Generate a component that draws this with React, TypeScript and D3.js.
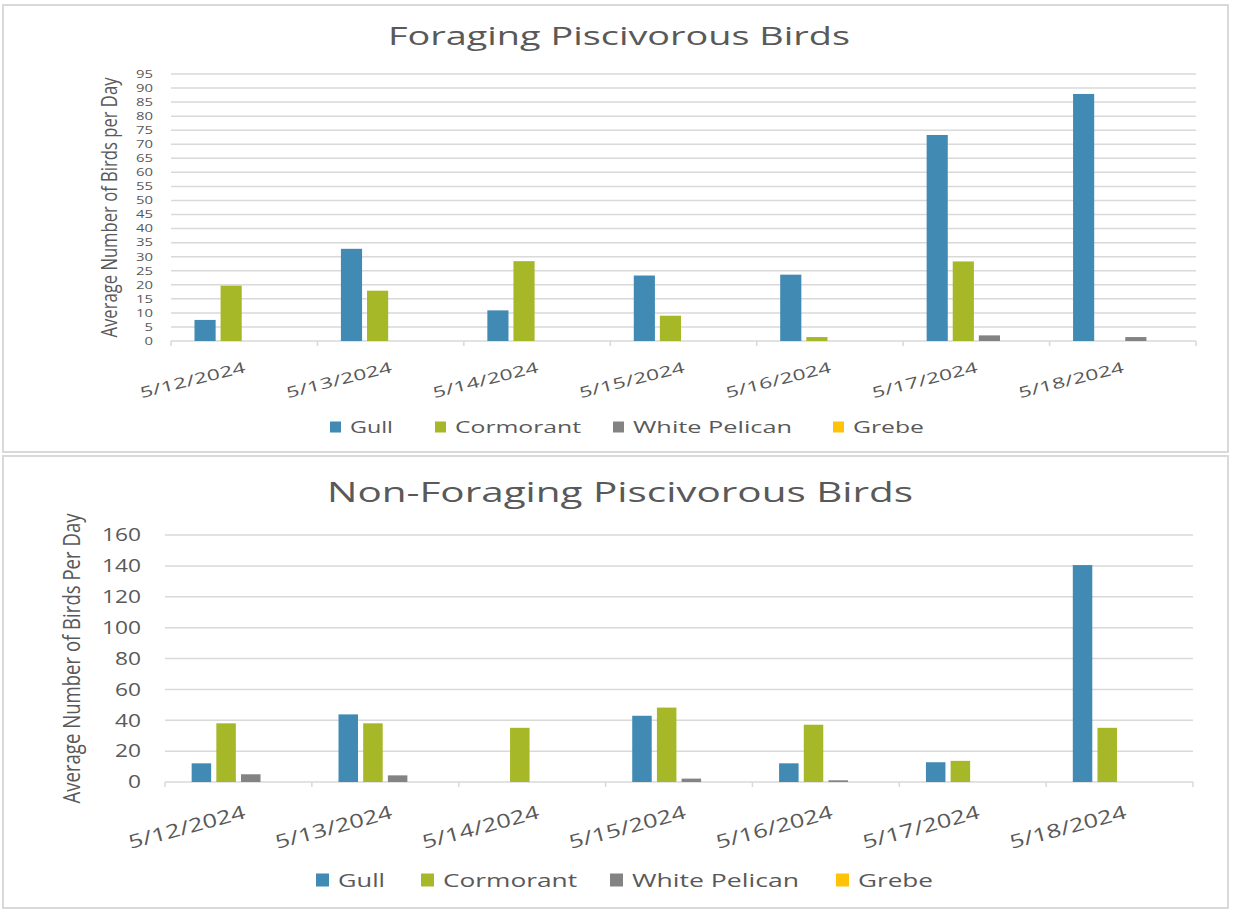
import * as d3 from 'd3';

const dates = ['5/12/2024', '5/13/2024', '5/14/2024', '5/15/2024', '5/16/2024', '5/17/2024', '5/18/2024'];
const seriesNames = ['Gull', 'Cormorant', 'White Pelican', 'Grebe'];
const seriesColors = ['#418AB3', '#A6B727', '#838383', '#FEC306'];

// foraging birds, average per day
const foragingGull = [7.5, 32.8, 10.9, 23.3, 23.6, 73.3, 87.9];
const foragingCormorant = [19.7, 17.9, 28.4, 9.0, 1.4, 28.3, 0];
const foragingPelican = [0, 0, 0, 0, 0, 2.0, 1.4];
const foragingGrebe = [0, 0, 0, 0, 0, 0, 0];
const foragingTicks = [0, 5, 10, 15, 20, 25, 30, 35, 40, 45, 50, 55, 60, 65, 70, 75, 80, 85, 90, 95];

// non-foraging birds, average per day
const nonForagingGull = [12.1, 43.8, 0, 42.9, 12.1, 12.8, 140.5];
const nonForagingCormorant = [38, 38, 35.1, 48.2, 37.1, 13.7, 35.1];
const nonForagingPelican = [5, 4.3, 0, 2.2, 1.1, 0, 0];
const nonForagingGrebe = [0, 0, 0, 0, 0, 0, 0];
const nonForagingTicks = [0, 20, 40, 60, 80, 100, 120, 140, 160];

const textColor = '#595959';
const gridColor = '#d9d9d9';

interface PanelProps {
  title: string;
  yTitle: string;
  series: number[][];
  ticks: number[];
  box: { x: number; y: number; w: number; h: number };
  plot: { left: number; right: number; top: number; bottom: number };
  titleX: number;
  titleY: number;
  titleFont: number;
  titleLen: number;
  yTitleX: number;
  yTitleFont: number;
  yTitleLen: number;
  tickFont: number;
  tickCharW: number;
  tickRight: number;
  dateFont: number;
  dateLen: number;
  dateDx: number;
  dateY: number;
  dateAngle: number;
  barPadInner: number;
  barPadOuter: number;
  legendY: number;
  legendFont: number;
  legendSquare: number;
  legendX: number[];
  legendLen: number[];
}

const Panel = (p: PanelProps) => {
  const x = d3.scaleBand<string>().domain(dates).range([p.plot.left, p.plot.right]).padding(0);
  const inner = d3
    .scaleBand<string>()
    .domain(seriesNames)
    .range([0, x.bandwidth()])
    .paddingInner(p.barPadInner)
    .paddingOuter(p.barPadOuter);
  const y = d3
    .scaleLinear()
    .domain([0, p.ticks[p.ticks.length - 1]])
    .range([p.plot.bottom, p.plot.top]);

  const boundaries = dates.map((d) => x(d)!).concat([p.plot.right]);

  return (
    <g>
      <rect x={p.box.x} y={p.box.y} width={p.box.w} height={p.box.h} fill="white" stroke={gridColor} strokeWidth={2} />
      <text
        x={p.titleX}
        y={p.titleY}
        textAnchor="middle"
        fontSize={p.titleFont}
        fill={textColor}
        textLength={p.titleLen}
        lengthAdjust="spacingAndGlyphs"
      >
        {p.title}
      </text>

      {/* gridlines */}
      {p.ticks.map((t) => (
        <line key={t} x1={p.plot.left} x2={p.plot.right} y1={y(t)} y2={y(t)} stroke={gridColor} strokeWidth={1.5} />
      ))}
      {/* category tick marks */}
      {boundaries.map((bx, i) => (
        <line key={i} x1={bx} x2={bx} y1={p.plot.bottom} y2={p.plot.bottom + 5} stroke={gridColor} strokeWidth={1.5} />
      ))}

      {/* y tick labels */}
      {p.ticks.map((t) => (
        <text
          key={t}
          x={p.tickRight}
          y={y(t)}
          dy="0.35em"
          textAnchor="end"
          fontSize={p.tickFont}
          fill={textColor}
          textLength={String(t).length * p.tickCharW}
          lengthAdjust="spacingAndGlyphs"
        >
          {t}
        </text>
      ))}

      {/* bars */}
      {p.series.map((vals, si) =>
        vals.map((v, di) =>
          v > 0 ? (
            <rect
              key={`${si}-${di}`}
              x={x(dates[di])! + inner(seriesNames[si])!}
              y={y(v)}
              width={inner.bandwidth()}
              height={y(0) - y(v)}
              fill={seriesColors[si]}
            />
          ) : null
        )
      )}

      {/* date labels */}
      {dates.map((d) => {
        const ax = x(d)! + x.bandwidth() / 2 + p.dateDx;
        return (
          <text
            key={d}
            transform={`translate(${ax},${p.dateY}) rotate(${p.dateAngle})`}
            textAnchor="end"
            fontSize={p.dateFont}
            fill={textColor}
            textLength={p.dateLen}
            lengthAdjust="spacingAndGlyphs"
          >
            {d}
          </text>
        );
      })}

      {/* y axis title */}
      <text
        transform={`translate(${p.yTitleX},${(p.plot.top + p.plot.bottom) / 2}) rotate(-90)`}
        textAnchor="middle"
        dy="0.35em"
        fontSize={p.yTitleFont}
        fill={textColor}
        textLength={p.yTitleLen}
        lengthAdjust="spacingAndGlyphs"
      >
        {p.yTitle}
      </text>

      {/* legend */}
      {seriesNames.map((name, i) => (
        <g key={name}>
          <rect
            x={p.legendX[i]}
            y={p.legendY - p.legendSquare / 2}
            width={p.legendSquare}
            height={p.legendSquare}
            fill={seriesColors[i]}
          />
          <text
            x={p.legendX[i] + p.legendSquare + 9}
            y={p.legendY}
            dy="0.35em"
            fontSize={p.legendFont}
            fill={textColor}
            textLength={p.legendLen[i]}
            lengthAdjust="spacingAndGlyphs"
          >
            {name}
          </text>
        </g>
      ))}
    </g>
  );
};

const App = () => {
  return (
    <svg
      width={1236}
      height={911}
      style={{ position: 'absolute', left: 0, top: 0, fontFamily: '"Open Sans", sans-serif' }}
    >
      <rect width={1236} height={911} fill="white" />
      <Panel
        title="Foraging Piscivorous Birds"
        yTitle="Average Number of Birds per Day"
        series={[foragingGull, foragingCormorant, foragingPelican, foragingGrebe]}
        ticks={foragingTicks}
        box={{ x: 3, y: 5, w: 1225, h: 447 }}
        plot={{ left: 171, right: 1196, top: 74, bottom: 341 }}
        titleX={619}
        titleY={45}
        titleFont={26}
        titleLen={462}
        yTitleX={110}
        yTitleFont={21}
        yTitleLen={260}
        tickFont={11}
        tickCharW={8.5}
        tickRight={153}
        dateFont={15}
        dateLen={108}
        dateDx={2}
        dateY={372}
        dateAngle={-14}
        barPadInner={0.19}
        barPadOuter={0.9}
        legendY={427}
        legendFont={17}
        legendSquare={11}
        legendX={[330, 435, 613, 833]}
        legendLen={[43, 126, 159, 71]}
      />
      <Panel
        title="Non-Foraging Piscivorous Birds"
        yTitle="Average Number of Birds Per Day"
        series={[nonForagingGull, nonForagingCormorant, nonForagingPelican, nonForagingGrebe]}
        ticks={nonForagingTicks}
        box={{ x: 3, y: 456, w: 1225, h: 452 }}
        plot={{ left: 165, right: 1193, top: 535, bottom: 782 }}
        titleX={620}
        titleY={502}
        titleFont={28}
        titleLen={586}
        yTitleX={72}
        yTitleFont={23}
        yTitleLen={290}
        tickFont={18}
        tickCharW={13}
        tickRight={141}
        dateFont={19}
        dateLen={120}
        dateDx={8}
        dateY={818}
        dateAngle={-15}
        barPadInner={0.21}
        barPadOuter={1.08}
        legendY={880}
        legendFont={19}
        legendSquare={13}
        legendX={[316, 421, 610, 836]}
        legendLen={[47, 134, 167, 75]}
      />
    </svg>
  );
};

export default App;
